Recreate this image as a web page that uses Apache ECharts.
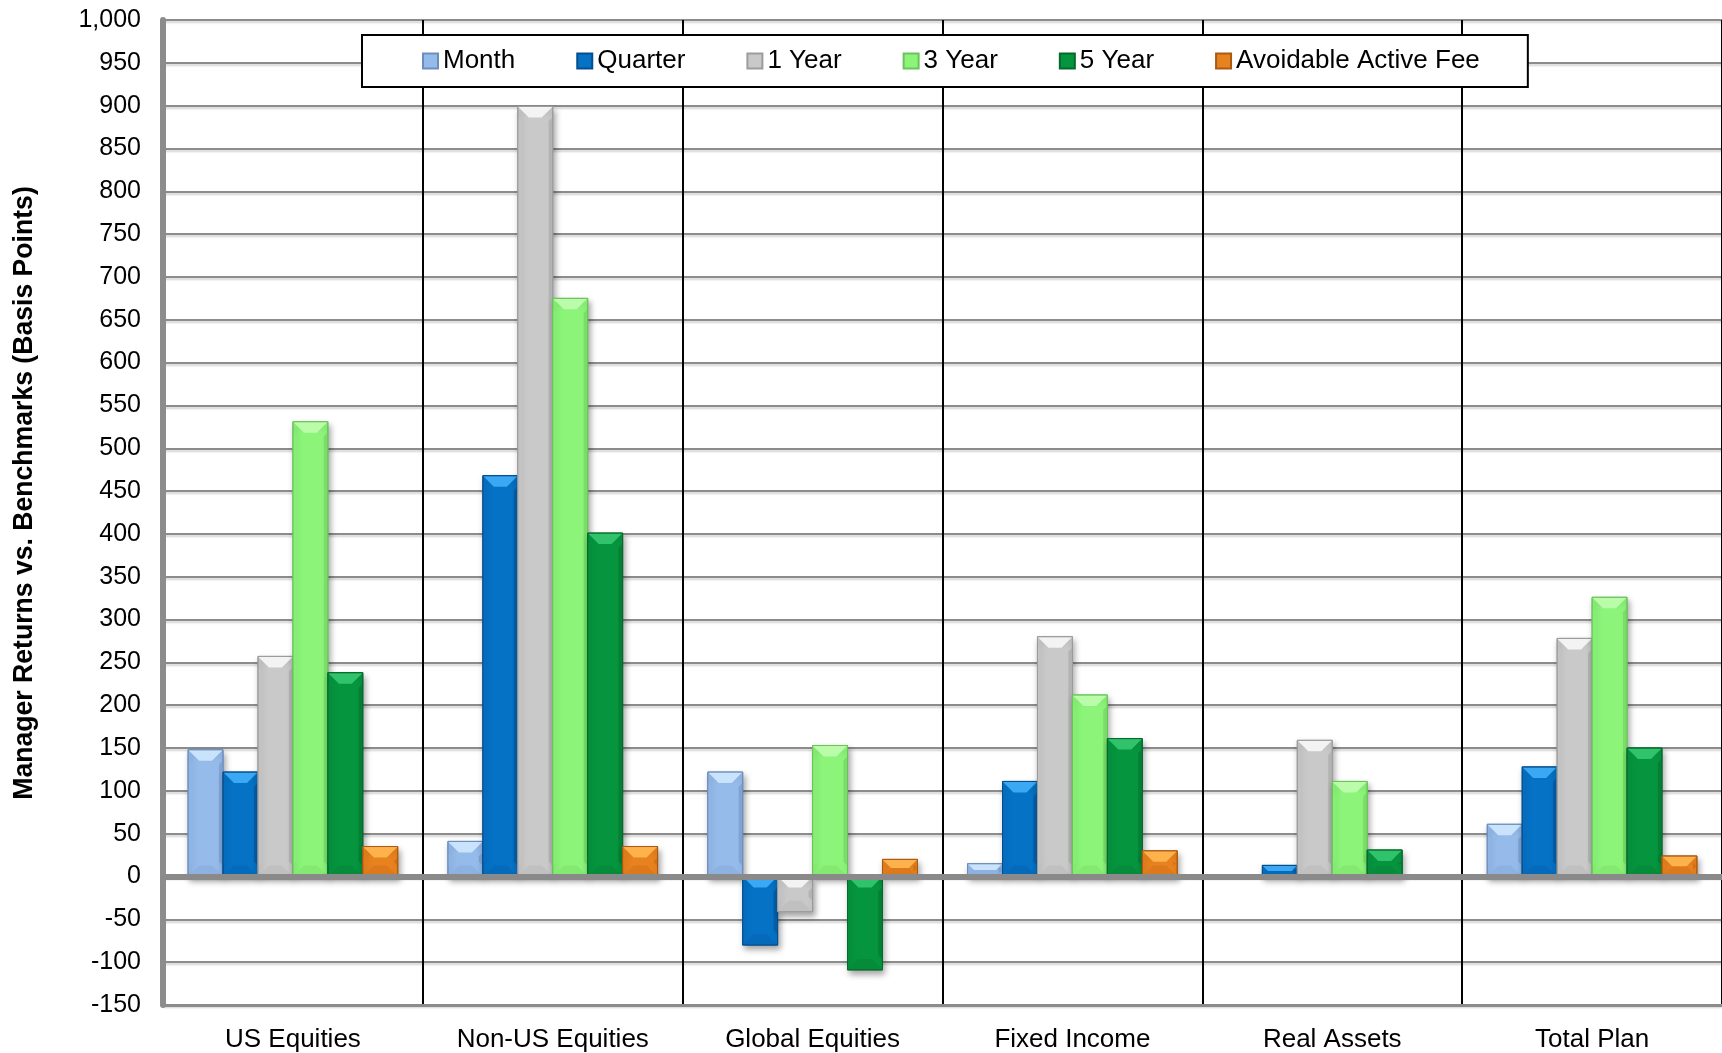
<!DOCTYPE html>
<html>
<head>
<meta charset="utf-8">
<title>Manager Returns vs. Benchmarks</title>
<script src="https://cdn.jsdelivr.net/npm/echarts@6/dist/echarts.min.js"></script>
<style>
  html, body { margin: 0; padding: 0; background: #fff; }
  #chart { width: 1722px; height: 1053px; }
</style>
</head>
<body>
<div id="chart"></div>
<script>
// Asset classes along the x axis
const categories = ['US Equities', 'Non-US Equities', 'Global Equities', 'Fixed Income', 'Real Assets', 'Total Plan'];

// Excess return vs. benchmark, basis points (null = no bar)
const monthVals   = [148,  41, 122,  15, null,  61];
const quarterVals = [122, 468, -80, 111,   13, 128];
const year1Vals   = [257, 899, -41, 280,  159, 278];
const year3Vals   = [531, 675, 153, 212,  111, 326];
const year5Vals   = [238, 401, -109, 161,  31, 150];
const feeVals     = [ 35,  35,  20,  30, null,  24];

const seriesNames = ['Month', 'Quarter', '1 Year', '3 Year', '5 Year', 'Avoidable Active Fee'];
const seriesValues = [monthVals, quarterVals, year1Vals, year3Vals, year5Vals, feeVals];

// Y axis range and step
const yMin = -150, yMax = 1000, yStep = 50;

// Bevelled bar palettes: face, top/bottom/side facets, outline
const palettes = [
  { main: '#95BBEA', top: '#C9E3FC', bottom: '#8DB2E1', left: '#8FB5E4', right: '#7FA3D3', stroke: '#6D8EBD' },
  { main: '#0672C6', top: '#3AA8F2', bottom: '#066ABA', left: '#066CBD', right: '#055EA6', stroke: '#054E8E' },
  { main: '#C9C9C9', top: '#F3F3F3', bottom: '#C0C0C0', left: '#C3C3C3', right: '#B3B3B3', stroke: '#9C9C9C' },
  { main: '#8BF479', top: '#BAFCA9', bottom: '#83E971', left: '#86EE74', right: '#79DD67', stroke: '#6BC35B' },
  { main: '#06953F', top: '#30C36B', bottom: '#058B3A', left: '#068E3C', right: '#057F35', stroke: '#046A2C' },
  { main: '#E8821E', top: '#FDB24B', bottom: '#DB791C', left: '#E07C1C', right: '#CF7119', stroke: '#A95B12' }
];

const FONT = 'Liberation Sans, Arial, sans-serif';
const barCount = seriesNames.length;
const barShare = 0.807; // fraction of each category band used by the group

function makeRenderer(seriesIdx) {
  const p = palettes[seriesIdx];
  return function (params, api) {
    const v = api.value(1);
    if (v == null || isNaN(v)) return;
    const cat = api.value(0);
    const base = api.coord([cat, 0]);
    const end = api.coord([cat, v]);
    const band = api.size([1, 0])[0];
    const bw = band * barShare / barCount;
    const x = base[0] - bw * barCount / 2 + seriesIdx * bw;
    const y = Math.min(base[1], end[1]);
    const h = Math.abs(end[1] - base[1]);
    const w = bw;
    const b = Math.min(11, h / 2, w / 2.6);
    const s = Math.min(4, w / 6);
    return {
      type: 'group',
      children: [
        {
          type: 'rect',
          shape: { x: x, y: y, width: w, height: h },
          style: {
            fill: p.main, stroke: p.stroke, lineWidth: 1,
            shadowBlur: 6, shadowOffsetX: 2, shadowOffsetY: 4, shadowColor: 'rgba(0,0,0,0.35)'
          }
        },
        {
          type: 'polygon',
          shape: { points: [[x + 0.5, y + b], [x + s, y + b + s], [x + s, y + h - b - s], [x + 0.5, y + h - b]] },
          style: { fill: p.left }
        },
        {
          type: 'polygon',
          shape: { points: [[x + w - 0.5, y + b], [x + w - s, y + b + s], [x + w - s, y + h - b - s], [x + w - 0.5, y + h - b]] },
          style: { fill: p.right }
        },
        {
          type: 'polygon',
          shape: { points: [[x + 0.5, y + h - 0.5], [x + w - 0.5, y + h - 0.5], [x + w - b, y + h - b], [x + b, y + h - b]] },
          style: { fill: p.bottom }
        },
        {
          type: 'polygon',
          shape: { points: [[x + 0.5, y + 0.5], [x + w - 0.5, y + 0.5], [x + w - b, y + b], [x + b, y + b]] },
          style: { fill: p.top }
        },
        {
          type: 'rect',
          shape: { x: x, y: y, width: w, height: h },
          style: { fill: 'none', stroke: p.stroke, lineWidth: 1 }
        }
      ]
    };
  };
}

const series = seriesNames.map(function (name, i) {
  return {
    name: name,
    type: 'custom',
    xAxisIndex: 0,
    yAxisIndex: 0,
    renderItem: makeRenderer(i),
    itemStyle: { color: palettes[i].main, borderColor: palettes[i].stroke, borderWidth: 1 },
    encode: { x: 0, y: 1 },
    data: categories.map(function (c, k) { return [k, seriesValues[i][k]]; })
  };
});

const chart = echarts.init(document.getElementById('chart'), null, { renderer: 'canvas' });

chart.setOption({
  backgroundColor: '#ffffff',
  animation: false,
  textStyle: { fontFamily: FONT, color: '#000' },
  grid: { left: 163, right: -2, top: 20, bottom: 47, containLabel: false },
  legend: {
    left: 362,
    top: 35,
    padding: [13, 48, 13, 60],
    itemGap: 61,
    itemWidth: 15,
    itemHeight: 15,
    icon: 'rect',
    backgroundColor: '#ffffff',
    borderColor: '#000000',
    borderWidth: 2,
    borderRadius: 0,
    textStyle: { fontSize: 26, fontFamily: FONT, color: '#000' },
    data: seriesNames
  },
  xAxis: [
    {
      type: 'category',
      position: 'bottom',
      data: categories,
      boundaryGap: true,
      axisLine: { show: true, onZero: false, lineStyle: { color: '#8C8C8C', width: 3 } },
      axisTick: { show: false },
      axisLabel: { fontSize: 26, color: '#000', margin: 22, fontFamily: FONT },
      splitLine: { show: true, lineStyle: { color: '#000000', width: 2 } }
    },
    {
      // zero baseline drawn over the bars
      type: 'category',
      position: 'bottom',
      data: categories,
      boundaryGap: true,
      z: 10,
      axisLine: { show: true, onZero: true, lineStyle: { color: '#8A8A8A', width: 6 } },
      axisTick: { show: false },
      axisLabel: { show: false },
      splitLine: { show: false }
    }
  ],
  yAxis: {
    type: 'value',
    min: yMin,
    max: yMax,
    interval: yStep,
    axisLine: { show: true, lineStyle: { color: '#8C8C8C', width: 6 } },
    axisTick: { show: false },
    axisLabel: {
      fontSize: 25,
      color: '#000',
      margin: 22,
      fontFamily: FONT,
      formatter: function (v) { return v.toLocaleString('en-US'); }
    },
    splitLine: {
      show: true,
      lineStyle: { color: '#8C8C8C', width: 2, shadowColor: 'rgba(0,0,0,0.18)', shadowBlur: 2, shadowOffsetY: 2 }
    }
  },
  graphic: [
    {
      type: 'text',
      x: 24,
      y: 493,
      rotation: Math.PI / 2,
      scaleX: 0.95,
      style: {
        text: 'Manager Returns vs. Benchmarks (Basis Points)',
        fontSize: 28,
        fontWeight: 'bold',
        fontFamily: FONT,
        fill: '#000',
        align: 'center',
        verticalAlign: 'middle'
      }
    }
  ],
  series: series
});
</script>
</body>
</html>
